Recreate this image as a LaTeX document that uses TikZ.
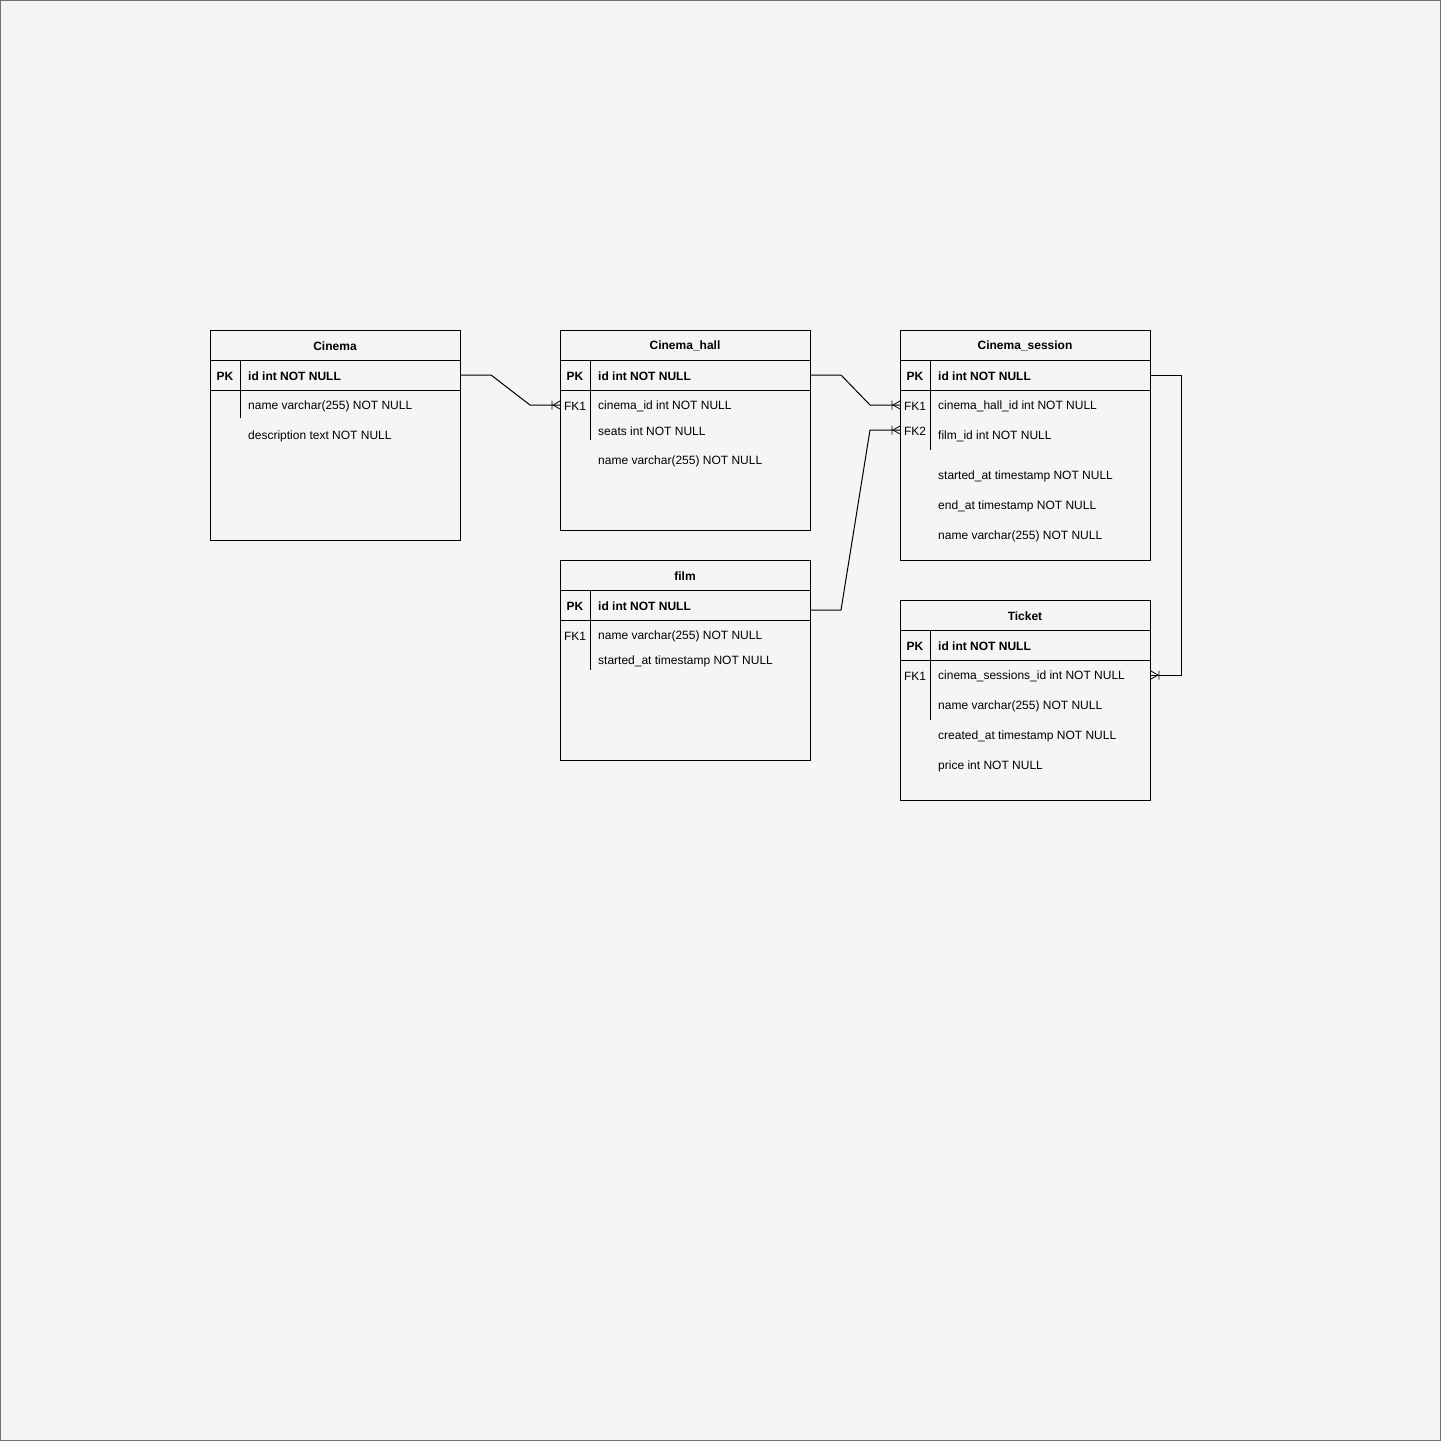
\documentclass[tikz,border=0pt]{standalone}
\usepackage{fontspec}
\setmainfont{Liberation Sans}
\usetikzlibrary{calc}
\definecolor{canvas}{HTML}{F5F5F5}
\definecolor{frame}{HTML}{707070}
\tikzset{
  tbl/.style={draw=black, line width=1pt, fill=none, inner sep=0pt, anchor=north west},
  txt/.style={font=\fontsize{12}{14}\selectfont, inner sep=0pt, yshift=-1.3pt},
  title/.style={txt, font=\fontsize{12}{14}\selectfont\bfseries, anchor=center},
  keycell/.style={txt, anchor=center},
  pkcell/.style={txt, font=\fontsize{12}{14}\selectfont\bfseries, anchor=center},
  field/.style={txt, anchor=west},
  pkfield/.style={txt, font=\fontsize{12}{14}\selectfont\bfseries, anchor=west},
  rule/.style={line width=1pt},
  link/.style={line width=1pt},
}
% crow's foot (one-or-many) at a point; #2 = 1 opens to the right, -1 to the left
\newcommand\crowfoot[2]{%
  \begin{scope}[shift={(#1)}, xscale=#2]
    \draw[line width=0.8pt] (-7,0) -- (0,-4) (-7,0) -- (0,4) (-8,-4.5) -- (-8,4.5);
  \end{scope}}
\begin{document}
\begin{tikzpicture}[x=1pt,y=-1pt]
  \fill[canvas] (0,0) rectangle (1441,1441);
  \draw[frame, line width=1.2pt] (0.6,0.6) rectangle (1440.4,1440.4);
  \useasboundingbox (0,0) rectangle (1441,1441);

  % ---------- Cinema ----------
  \node[tbl, minimum width=250pt, minimum height=210pt] (cinema) at (210,330) {};
  \draw[rule] (210,360) -- (460,360) (210,390) -- (460,390) (240,360) -- (240,418);
  \node[title] (cinemat) at (335,345) {Cinema};
  \node[pkcell] (cinemapkk) at (225,375) {PK};
  \node[pkfield] (cinemapk) at (248,375) {id int NOT NULL};
  \node[field] (cinemaf1) at (248,405) {name varchar(255) NOT NULL};
  \node[field] (cinemaf2) at (248,435) {description text NOT NULL};

  % ---------- Cinema_hall ----------
  \node[tbl, minimum width=250pt, minimum height=200pt] (hall) at (560,330) {};
  \draw[rule] (560,360) -- (810,360) (560,390) -- (810,390) (590,360) -- (590,440);
  \node[title] (hallt) at (685,345) {Cinema\_hall};
  \node[pkcell] (hallpkk) at (575,375) {PK};
  \node[pkfield] (hallpk) at (598,375) {id int NOT NULL};
  \node[keycell] (hallfkk) at (575,405) {FK1};
  \node[field] (hallfk) at (598,405) {cinema\_id int NOT NULL};
  \node[field] (hallf2) at (598,430) {seats int NOT NULL};
  \node[field] (hallf3) at (598,460) {name varchar(255) NOT NULL};

  % ---------- film ----------
  \node[tbl, minimum width=250pt, minimum height=200pt] (film) at (560,560) {};
  \draw[rule] (560,590) -- (810,590) (560,620) -- (810,620) (590,590) -- (590,670);
  \node[title] (filmt) at (685,575) {film};
  \node[pkcell] (filmpkk) at (575,605) {PK};
  \node[pkfield] (filmpk) at (598,605) {id int NOT NULL};
  \node[keycell] (filmfkk) at (575,635) {FK1};
  \node[field] (filmf1) at (598,635) {name varchar(255) NOT NULL};
  \node[field] (filmf2) at (598,660) {started\_at timestamp NOT NULL};

  % ---------- Cinema_session ----------
  \node[tbl, minimum width=250pt, minimum height=230pt] (sess) at (900,330) {};
  \draw[rule] (900,360) -- (1150,360) (900,390) -- (1150,390) (930,360) -- (930,450);
  \node[title] (sesst) at (1025,345) {Cinema\_session};
  \node[pkcell] (sesspkk) at (915,375) {PK};
  \node[pkfield] (sesspk) at (938,375) {id int NOT NULL};
  \node[keycell] (sessfk1k) at (915,405) {FK1};
  \node[field] (sessfk1) at (938,405) {cinema\_hall\_id int NOT NULL};
  \node[keycell] (sessfk2k) at (915,430) {FK2};
  \node[field] (sessfk2) at (938,435) {film\_id int NOT NULL};
  \node[field] (sessf3) at (938,475) {started\_at timestamp NOT NULL};
  \node[field] (sessf4) at (938,505) {end\_at timestamp NOT NULL};
  \node[field] (sessf5) at (938,535) {name varchar(255) NOT NULL};

  % ---------- Ticket ----------
  \node[tbl, minimum width=250pt, minimum height=200pt] (ticket) at (900,600) {};
  \draw[rule] (900,630) -- (1150,630) (900,660) -- (1150,660) (930,630) -- (930,720);
  \node[title] (tickett) at (1025,615) {Ticket};
  \node[pkcell] (ticketpkk) at (915,645) {PK};
  \node[pkfield] (ticketpk) at (938,645) {id int NOT NULL};
  \node[keycell] (ticketfkk) at (915,675) {FK1};
  \node[field] (ticketfk) at (938,675) {cinema\_sessions\_id int NOT NULL};
  \node[field] (ticketf2) at (938,705) {name varchar(255) NOT NULL};
  \node[field] (ticketf3) at (938,735) {created\_at timestamp NOT NULL};
  \node[field] (ticketf4) at (938,765) {price int NOT NULL};

  % ---------- relations ----------
  \coordinate (r1a) at ($(cinema.east |- cinemapk)+(0,-1.3)$);
  \coordinate (r1b) at ($(hall.west |- hallfkk)+(0,-1.3)$);
  \draw[link] (r1a) -- ++(30,0) -- ($(r1b)+(-30,0)$) -- (r1b);
  \crowfoot{r1b}{1}

  \coordinate (r2a) at ($(hall.east |- hallpk)+(0,-1.3)$);
  \coordinate (r2b) at ($(sess.west |- sessfk1k)+(0,-1.3)$);
  \draw[link] (r2a) -- ++(30,0) -- ($(r2b)+(-30,0)$) -- (r2b);
  \crowfoot{r2b}{1}

  \coordinate (r3a) at ($(film.east |- filmpk)+(0,3.7)$);
  \coordinate (r3b) at ($(sess.west |- sessfk2k)+(0,-1.3)$);
  \draw[link] (r3a) -- ++(30,0) -- ($(r3b)+(-30,0)$) -- (r3b);
  \crowfoot{r3b}{1}

  \coordinate (r4a) at ($(sess.east |- sesspk)+(0,-1.3)$);
  \coordinate (r4b) at ($(ticket.east |- ticketfk)+(0,-1.3)$);
  \draw[link] (r4a) -- ++(30,0) |- (r4b);
  \crowfoot{r4b}{-1}
\end{tikzpicture}
\end{document}
